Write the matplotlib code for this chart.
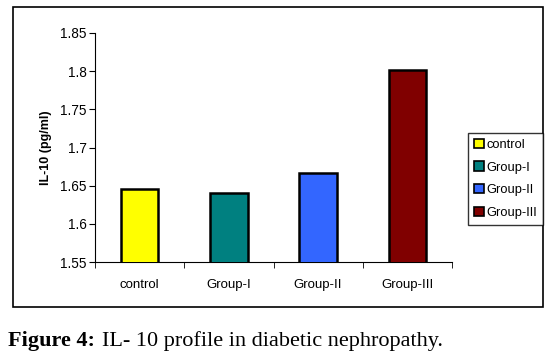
import matplotlib
matplotlib.use('Agg')
import matplotlib.pyplot as plt
from matplotlib.patches import Rectangle, Patch

# データ
groups = ['control', 'Group-I', 'Group-II', 'Group-III']
il10 = [1.646, 1.641, 1.667, 1.801]
colors = ['#FFFF00', '#008080', '#3366FF', '#800000']
yticks = [1.55, 1.6, 1.65, 1.7, 1.75, 1.8, 1.85]

plt.rcParams['font.family'] = ['Liberation Sans', 'DejaVu Sans']

W, H = 550, 362
fig = plt.figure(figsize=(W / 100, H / 100), dpi=100)

# 外枠
fig.patches.append(Rectangle((13 / W, 1 - 307 / H), (543 - 13) / W, (307 - 7) / H,
                             transform=fig.transFigure, fill=False,
                             edgecolor='black', linewidth=1.2))

ax = fig.add_axes([95 / W, 1 - 262 / H, (452 - 95) / W, (262 - 33) / H])
x = range(len(groups))
ax.bar(x, il10, width=0.42, color=colors, edgecolor='black', linewidth=1.8, zorder=3)
ax.set_ylim(1.55, 1.85)
ax.set_xlim(-0.5, len(groups) - 0.5)
ax.set_yticks(yticks)
ax.set_yticklabels([f'{v:g}' for v in yticks], fontsize=9.8)
ax.set_xticks(list(x))
ax.set_xticklabels(groups, fontsize=9.5)
ax.tick_params(axis='x', length=0, pad=12)
ax.set_xticks([i - 0.5 for i in range(len(groups) + 1)], minor=True)
ax.tick_params(axis='x', which='minor', length=4, direction='out')
ax.tick_params(axis='y', length=4, direction='out', pad=2)
ax.spines['top'].set_visible(False)
ax.spines['right'].set_visible(False)
ax.set_ylabel('IL-10 (pg/ml)', fontsize=9, fontweight='bold', labelpad=6)

handles = [Patch(facecolor=c, edgecolor='black', linewidth=1.2) for c in colors]
leg = fig.legend(handles, groups, loc='upper left',
                 bbox_to_anchor=(468 / W, 1 - 133 / H),
                 bbox_transform=fig.transFigure, fontsize=9.3,
                 frameon=True, fancybox=False, edgecolor='black',
                 handlelength=0.75, handleheight=0.75, handletextpad=0.25,
                 borderpad=0.45, labelspacing=0.8, borderaxespad=0)
leg.get_frame().set_linewidth(1.0)

# キャプション
t1 = fig.text(8 / W, 1 - 341 / H, 'Figure 4:', fontsize=16, fontweight='bold',
              family=['Liberation Serif'], va='center', ha='left')
fig.canvas.draw()
bb = t1.get_window_extent()
fig.text((bb.x1 + 7) / W, 1 - 341 / H, 'IL- 10 profile in diabetic nephropathy.',
         fontsize=16, family=['Liberation Serif'], va='center', ha='left')

fig.savefig('out.png', dpi=100)
